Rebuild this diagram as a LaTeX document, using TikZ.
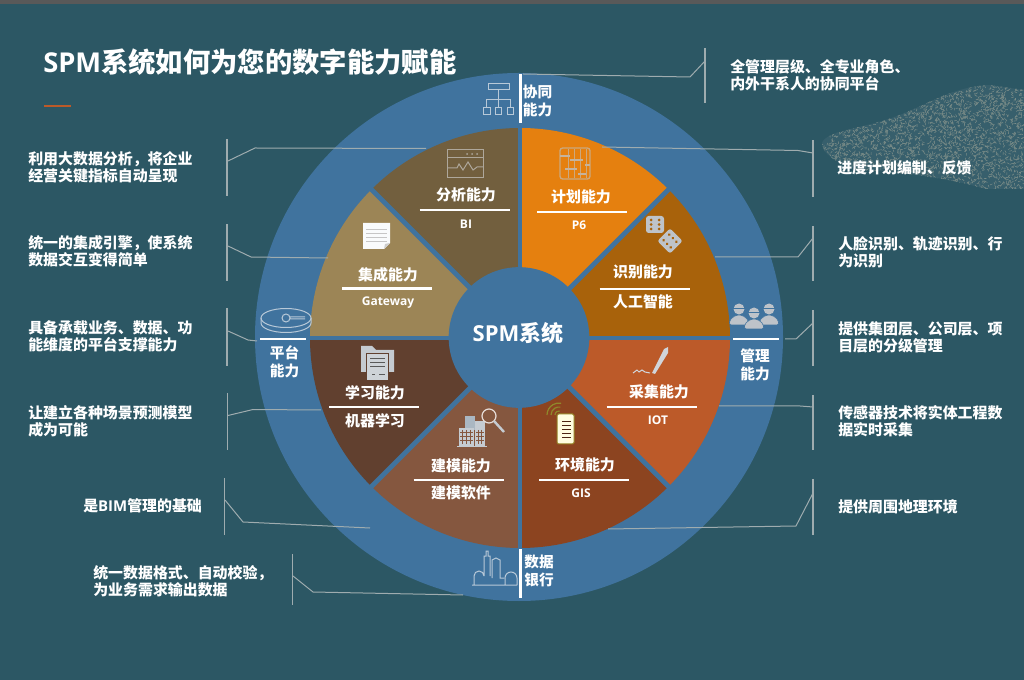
\documentclass[tikz,border=0pt]{standalone}
\usepackage{fontspec}
\setmainfont{Noto Sans CJK SC}
\newfontfamily\latin{Open Sans}
\usetikzlibrary{calc,positioning}

\definecolor{bgteal}{HTML}{2C5764}
\definecolor{ringblue}{HTML}{40739E}
\definecolor{wPlan}{HTML}{E5800F}
\definecolor{wShibie}{HTML}{A8620B}
\definecolor{wCaiji}{HTML}{BC5A29}
\definecolor{wHuanjing}{HTML}{8C4420}
\definecolor{wJianmo}{HTML}{85573F}
\definecolor{wXuexi}{HTML}{61402F}
\definecolor{wJicheng}{HTML}{9C8556}
\definecolor{wFenxi}{HTML}{725F3E}
\definecolor{iconblue}{HTML}{B8C9D8}
\definecolor{icongrey}{HTML}{C5CBD1}
\definecolor{leadgrey}{HTML}{9FACAF}
\definecolor{stipple}{HTML}{7A8C88}

\tikzset{
  sidetext/.style={anchor=west,align=left,text=white,font=\fontsize{11.2}{12.75}\selectfont\bfseries},
  wedgetext/.style={text=white,font=\fontsize{11.2}{13}\selectfont\bfseries},
  subtext/.style={text=white,font=\fontsize{11.2}{13}\selectfont\bfseries},
  subsmall/.style={text=white,font=\fontsize{9}{11}\latin\bfseries},
  ringtext/.style={align=center,text=white,font=\fontsize{11}{13.5}\selectfont\bfseries},
  whitebar/.style={draw=white,line width=1.9pt},
  bracket/.style={draw=leadgrey,line width=0.9pt},
  leadline/.style={draw=leadgrey,line width=0.75pt},
  iconline/.style={draw=iconblue,line width=0.75pt,fill=none},
}

\begin{document}
\begin{tikzpicture}[x=0.75pt,y=-0.75pt]
  \useasboundingbox (0,0) rectangle (1024,680);
  \fill[bgteal] (0,0) rectangle (1024,680);
  \fill[black!65!white] (0,0) rectangle (1024,4.5);

  % stippled patch, right side
  \begin{scope}
    \clip (822,143) .. controls (825,132) and (860,128) .. (885,120)
      .. controls (920,110) and (950,86) .. (990,85) -- (1024,90) -- (1024,189) -- (985,189)
      .. controls (950,178) and (900,172) .. (860,170) .. controls (840,165) and (822,155) .. (822,143);
    \fill[bgteal!95!white] (820,80) rectangle (1024,190);
    \pgfmathsetseed{4242}
    \foreach \i in {1,...,3200}{
      \pgfmathsetmacro{\tx}{820+rnd*204}
      \pgfmathsetmacro{\ty}{84+rnd*106}
      \pgfmathsetmacro{\ta}{rnd*180}
      \draw[stipple,line width=0.4pt] (\tx,\ty) -- ++(\ta:2.6);
    }
  \end{scope}

  % ring and wedges
  \coordinate (ringc) at (519,337);
  \coordinate (cen) at (520,338);
  \fill[ringblue] (ringc) circle (264);
  \foreach \a/\col in {0/wCaiji,45/wHuanjing,90/wJianmo,135/wXuexi,180/wJicheng,225/wFenxi,270/wPlan,315/wShibie}{
    \fill[\col] (cen) -- ([shift={(\a:210)}]cen) arc[start angle=\a,delta angle=45,radius=210] -- cycle;
  }
  \foreach \a in {45,135,225,315}{
    \draw[ringblue,line width=3.6pt] (cen) -- ([shift={(\a:213)}]cen);
  }
  \draw[ringblue,line width=3.7pt] ([shift={(180:213)}]cen) -- ([shift={(0:213)}]cen);
  \draw[ringblue,line width=2.6pt] ([shift={(270:213)}]cen) -- ([shift={(90:213)}]cen);
  \node[circle,fill=ringblue,minimum size=105.5pt,inner sep=0pt] (hub) at (519,337.5) {};
  \node[text=white,font=\fontsize{16.5}{20}\selectfont\bfseries] (hubtext) at (518,333) {{\latin SPM}系统};

  % leaders: name/bracket x/top/bottom/start/bend/end
  \foreach \n/\bx/\bt/\bb/\ax/\ay/\mx/\my/\ex/\ey in {
    la/227/139/196/228/161/255/148/426/148.5,
    lb/227/224/281/228/246/251/257/328/258,
    lc/227/308/366/228/331/248/340/257/341,
    ld/227.5/393/450/228/415.5/253/409.5/321/410,
    le/224.5/478/535/225/500/243/522/370/528,
    lf/292.5/554/605/293/576/313/592/463/595,
    ra/705/48/103/705/61/690/77/523/74,
    rb/813/140/197/813/153/798/150.5/602/147,
    rc/813/226/281/813/238/798/257/715/257,
    rd/813/310/366/813/323/796/339/785/339,
    re/813/395/450/813/407/800/406/719/406,
    rf/813/479/535/813/493/796/526/608/529}{
    \coordinate (\n top) at (\bx,\bt);
    \coordinate (\n bot) at (\bx,\bb);
    \coordinate (\n from) at (\ax,\ay);
    \coordinate (\n bend) at (\mx,\my);
    \coordinate (\n to) at (\ex,\ey);
    \draw[bracket] (\n top) -- (\n bot);
    \draw[leadline] (\n from) -- (\n bend) -- (\n to);
  }

  % title
  \node[anchor=west,inner sep=0pt,text=white,font=\fontsize{20.5}{24}\selectfont\bfseries] (title) at (43,62) {{\latin SPM}系统如何为您的数字能力赋能};
  \draw[wCaiji,line width=1.6pt] (44,106) -- (71,106);

  % side texts
  \node[sidetext,inner sep=0pt] (tla) at (28,167.5) {利用大数据分析，将企业\\经营关键指标自动呈现};
  \node[sidetext,inner sep=0pt] (tlb) at (28,251.5) {统一的集成引擎，使系统\\数据交互变得简单};
  \node[sidetext,inner sep=0pt] (tlc) at (28,336.5) {具备承载业务、数据、功\\能维度的平台支撑能力};
  \node[sidetext,inner sep=0pt] (tld) at (28,421.5) {让建立各种场景预测模型\\成为可能};
  \node[sidetext,inner sep=0pt] (tle) at (83,506) {是{\latin BIM}管理的基础};
  \node[sidetext,inner sep=0pt] (tlf) at (93,581.5) {统一数据格式、自动校验，\\为业务需求输出数据};
  \node[sidetext,inner sep=0pt] (tra) at (730,75.5) {全管理层级、全专业角色、\\内外干系人的协同平台};
  \node[sidetext,inner sep=0pt] (trb) at (837,168) {进度计划编制、反馈};
  \node[sidetext,inner sep=0pt] (trc) at (838,252.5) {人脸识别、轨迹识别、行\\为识别};
  \node[sidetext,inner sep=0pt] (trd) at (838,337.5) {提供集团层、公司层、项\\目层的分级管理};
  \node[sidetext,inner sep=0pt] (tre) at (838,421.5) {传感器技术将实体工程数\\据实时采集};
  \node[sidetext,inner sep=0pt] (trf) at (838,507) {提供周围地理环境};

  % wedge labels: name/x/y/bar x/bar y/sub x/sub y/title
  \foreach \n/\x/\y/\lx/\ly/\lab in {
    fenxi/466/195/464.5/210/分析能力,
    plan/581/197/582/212/计划能力,
    jicheng/388/275/387/288.5/集成能力,
    shibie/643/272/644.5/289/识别能力,
    xuexi/375/393/374/407/学习能力,
    caiji/659/392/651.5/407/采集能力,
    jianmo/461/466/458.5/480/建模能力,
    huanjing/585/465/584/480/环境能力}{
    \node[wedgetext] (\n) at (\x,\y) {\lab};
    \draw[whitebar] (\lx-45,\ly) -- (\lx+45,\ly);
  }
  \node[subsmall] (subfenxi) at (466,224) {BI};
  \node[subsmall] (subplan) at (579,225) {P6};
  \node[subsmall] (subjicheng) at (388,303) {Gateway};
  \node[subtext] (subshibie) at (643,302) {人工智能};
  \node[subtext] (subxuexi) at (375,421) {机器学习};
  \node[subsmall] (subcaiji) at (658,420) {IOT};
  \node[subtext] (subjianmo) at (461,493) {建模软件};
  \node[subsmall] (subhuanjing) at (581,493) {GIS};

  % ring labels and bars
  \draw[whitebar] (520.5,74) -- (520.5,123);
  \draw[whitebar] (520.5,549) -- (520.5,598);
  \draw[whitebar] (260,339) -- (306,339);
  \draw[whitebar] (733,339) -- (779,339);
  \node[ringtext] (xietong) at (537.5,101) {协同\\能力};
  \node[ringtext] (pingtai) at (284.5,362) {平台\\能力};
  \node[ringtext] (guanli) at (755,365) {管理\\能力};
  \node[ringtext] (shuju) at (539,571) {数据\\银行};

  % icon: analysis screen
  \draw[gray!40!wFenxi!60!white,line width=0.75pt] (447,150) rectangle (483,178) (447,158) -- (483,158);
  \draw[gray!40!wFenxi!60!white,line width=0.75pt] (448,168) -- (457,168) -- (459,164) -- (463,170) -- (468,162) -- (473,170) -- (477,167) -- (483,167);
  \foreach \x in {467,472,477}{ \fill[gray!40!wFenxi!60!white] (\x,154) circle (1); }

  % icon: plan chart
  \draw[wPlan!45!iconblue,line width=1pt,rounded corners=2pt] (560,148) rectangle (590,179);
  \foreach \x in {568,574,580,586}{ \draw[wPlan!45!iconblue,line width=0.4pt] (\x,149) -- (\x,178); }
  \foreach \xa/\xb/\y in {560/570/156,570/583/160,585/590/165,565/577/169,578/586/174}{
    \draw[wPlan!30!iconblue,line width=1.5pt] (\xa,\y) -- (\xb,\y);
  }

  % icon: sheet of paper
  \fill[white!92!iconblue] (363,223) -- (390,223) -- (390,243) -- (384,249) -- (363,249) -- cycle;
  \fill[gray!40!white] (390,243) -- (385,244) -- (384,249) -- cycle;
  \foreach \y in {229,233,237,241}{ \draw[gray!45!white,line width=0.6pt] (366,\y) -- (387,\y); }

  % icon: dice
  \fill[icongrey!90!gray,rounded corners=2pt] (646,216) rectangle (664,233);
  \foreach \x in {651,659}{ \foreach \y in {220,224.5,229}{ \fill[wShibie] (\x,\y) circle (1.5); } }
  \begin{scope}[shift={(670,241)},rotate=45]
    \fill[icongrey!90!gray,rounded corners=2pt] (-9,-9) rectangle (9,9);
    \foreach \x in {-4,4}{ \foreach \y in {-5,0,5}{ \fill[wShibie] (\x,\y) circle (1.5); } }
  \end{scope}

  % icon: folder with paper
  \fill[icongrey] (361,346) -- (372,346) -- (376,350) -- (394,350) -- (394,372) -- (387,372) -- (387,380) -- (366,380) -- (366,372) -- (361,372) -- cycle;
  \filldraw[icongrey!85!white,draw=wXuexi,line width=0.5pt] (366,353) -- (388,353) -- (388,380) -- (366,380) -- cycle;
  \foreach \y in {358,362,366}{ \draw[gray!70!black,line width=0.6pt] (370,\y) -- (385,\y); }
  \draw[gray!70!black,line width=0.6pt] (372,374) -- (375,374) (379,374) -- (385,374);

  % icon: pen and signature
  \fill[icongrey!80!white] (652,373) -- (664,349) -- (668,347) -- (668,353) -- (655,374) -- cycle;
  \draw[icongrey!80!white,line width=0.75pt] (633,373) -- (637,370) -- (639,372) -- (642,370) -- (645,372) -- (650,373);

  % icon: phone and signal
  \filldraw[white!88!yellow,draw=olive!60!wHuanjing,line width=0.75pt,rounded corners=1pt] (557,414) rectangle (574,444);
  \foreach \y in {421,425,429,433,437}{ \draw[black!45!wHuanjing,line width=0.7pt] (562,\y) -- (571,\y); }
  \foreach \r in {4,8,12}{ \draw[olive!70!gray,line width=0.9pt] ([shift={(180:\r)}]559,415) arc[start angle=180,end angle=280,radius=\r]; }

  % icon: buildings and magnifier
  \fill[iconblue!75!gray] (465,416) rectangle (475,430);
  \fill[icongrey] (459,428) rectangle (474,446);
  \fill[icongrey] (475,421) rectangle (485,446);
  \foreach \x in {462,466,470,478,481}{ \draw[wJianmo,line width=0.4pt] (\x,430) -- (\x,444); }
  \foreach \y in {432,436,440}{ \draw[wJianmo,line width=0.4pt] (460,\y) -- (473,\y) (476,\y) -- (484,\y); }
  \draw[icongrey,line width=1.2pt] (457,446.5) -- (487,446.5);
  \draw[white!80!wJianmo,line width=0.9pt] (489,416) circle (7);
  \draw[icongrey,line width=1.8pt] (494,421) -- (504,432);

  % icon: org chart
  \draw[iconline] (488.5,84) rectangle (509,90) (498.7,90) -- (498.7,108) (486.7,108) -- (486.7,100) -- (510.2,100) -- (510.2,108);
  \foreach \x in {483.5,495.2,507}{ \draw[iconline] (\x,108) rectangle ++(6.5,7); }

  % icon: disk
  \draw[iconline] (286,318) circle[x radius=25,y radius=9.5];
  \draw[iconline] (261,318) -- (261,323) arc[start angle=180,delta angle=-180,x radius=25,y radius=9.5] -- (311,318);
  \draw[iconline] (286,318) circle (4) (290,317) -- (305,317) (290,319) -- (305,319);

  % icon: workers
  \foreach \px/\py in {739/308,769/308,754/312}{
    \filldraw[icongrey!90!gray,draw=ringblue,line width=0.4pt,rounded corners=1.5pt] (\px-9.5,\py+17) -- (\px-9.5,\py+12) -- (\px-3,\py+7) -- (\px+3,\py+7) -- (\px+9.5,\py+12) -- (\px+9.5,\py+17) -- cycle;
    \fill[icongrey!90!gray] (\px,\py+1) circle (5.5);
    \draw[ringblue,line width=0.5pt] (\px-6,\py) -- (\px+6,\py);
  }

  % icon: factory outline
  \draw[iconblue,line width=0.75pt] (472,585) -- (517,585) (474,585) -- (474,576) arc[start angle=180,end angle=360,radius=5] (484,576) -- (484,556) -- (486,556) -- (486,551) -- (488,551) -- (488,556) -- (490,556) -- (490,576) (492,578) -- (492,560) -- (496,558) -- (500,560) -- (500,578) -- (504,578) (505,585) -- (505,578) arc[start angle=180,end angle=360,radius=6] -- (517,585);
\end{tikzpicture}
\end{document}
